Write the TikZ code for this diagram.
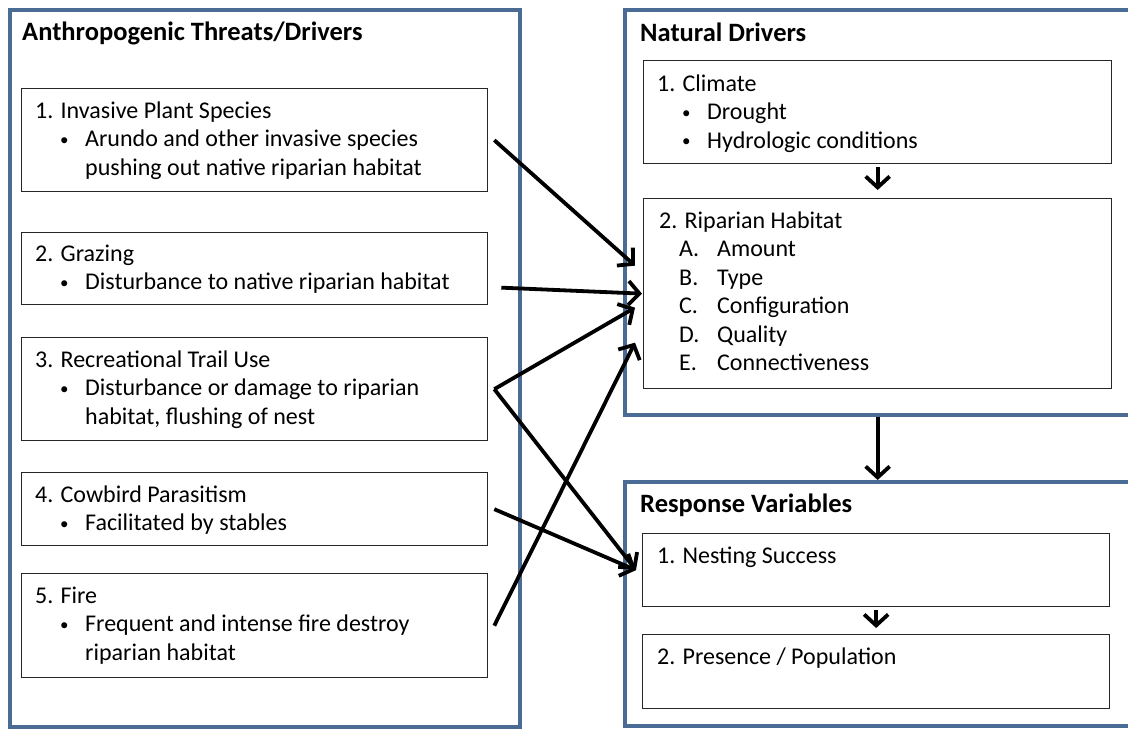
\documentclass[tikz,border=0pt]{standalone}
\usepackage{fontspec}
\setmainfont{Carlito}
\usetikzlibrary{arrows.meta, positioning, calc}

\definecolor{frameblue}{RGB}{74,108,148}
\newcommand{\bul}{\hspace*{25pt}\makebox[25pt][l]{\raisebox{1.5pt}{\fontsize{17}{17}\selectfont\textbullet}}}
\newcommand{\cnt}{\hspace*{50pt}}
\newcommand{\lst}[1]{\hspace*{20pt}\makebox[38pt][l]{#1}}
\newcommand{\fst}{\rule{0pt}{19pt}}

\begin{document}
\begin{tikzpicture}[x=1pt, y=-1pt,
	every node/.style={font=\fontsize{24}{28.5}\selectfont},
	group/.style={draw=frameblue, line width=3.5pt, anchor=north west, inner sep=0pt},
	item/.style={draw=black!85, line width=1.3pt, fill=white, anchor=north west, inner sep=0pt},
	txt/.style={anchor=north west, inner sep=0pt, align=left},
	head/.style={anchor=west, inner sep=0pt, font=\fontsize{26.5}{30}\selectfont\bfseries},
	link/.style={line width=3.8pt, -{Straight Barb[length=11pt, width=24pt]}}]
		\useasboundingbox (0,0) rectangle (1128,729);
		% outer frames
		\node[group, minimum width=510pt, minimum height=717pt] (anthro) at (8,8) {};
		\node[group, minimum width=520pt, minimum height=405pt] (natural) at (623,8) {};
		\node[group, minimum width=520pt, minimum height=244pt] (response) at (623,480) {};
		\node[head] (anthrohead) at (22,33) {Anthropogenic Threats/Drivers};
		\node[head] (naturalhead) at (640,32) {Natural Drivers};
		\node[head] (responsehead) at (640,505) {Response Variables};
		% threats
		\node[item, minimum width=466pt, minimum height=103pt] (invasive) at (21,88) {};
		\node[item, minimum width=466pt, minimum height=72pt] (grazing) at (21,232) {};
		\node[item, minimum width=466pt, minimum height=103pt] (trail) at (21,337) {};
		\node[item, minimum width=466pt, minimum height=73pt] (cowbird) at (21,472) {};
		\node[item, minimum width=466pt, minimum height=104pt] (fire) at (21,573) {};
		\node[txt] (invasivetxt) at ($(invasive.north west)+(14,11)$) {\fst 1. Invasive Plant Species\\ \bul Arundo and other invasive species\\ \cnt pushing out native riparian habitat};
		\node[txt] (grazingtxt) at ($(grazing.north west)+(14,10)$) {\fst 2. Grazing\\ \bul Disturbance to native riparian habitat};
		\node[txt] (trailtxt) at ($(trail.north west)+(14,11)$) {\fst 3. Recreational Trail Use\\ \bul Disturbance or damage to riparian\\ \cnt habitat, flushing of nest};
		\node[txt] (cowbirdtxt) at ($(cowbird.north west)+(14,11)$) {\fst 4. Cowbird Parasitism\\ \bul Facilitated by stables};
		\node[txt] (firetxt) at ($(fire.north west)+(14,11)$) {\fst 5. Fire\\ \bul Frequent and intense fire destroy\\ \cnt riparian habitat};
		% natural drivers
		\node[item, minimum width=468pt, minimum height=103pt] (climate) at (643,60) {};
		\node[item, minimum width=468pt, minimum height=190pt] (riparian) at (643,198) {};
		\node[txt] (climatetxt) at ($(climate.north west)+(14,12)$) {\fst 1. Climate\\ \bul Drought\\ \bul Hydrologic conditions};
		\node[txt] (ripariantxt) at ($(riparian.north west)+(16,11)$) {\fst 2. Riparian Habitat\\ \lst{A.}Amount\\ \lst{B.}Type\\ \lst{C.}Configuration\\ \lst{D.}Quality\\ \lst{E.}Connectiveness};
		% responses
		\node[item, minimum width=467pt, minimum height=73pt] (nesting) at (642,533) {};
		\node[item, minimum width=467pt, minimum height=74pt] (presence) at (642,634) {};
		\node[txt] (nestingtxt) at ($(nesting.north west)+(15,11)$) {\fst 1. Nesting Success};
		\node[txt] (presencetxt) at ($(presence.north west)+(15,11)$) {\fst 2. Presence / Population};
		% links
		\draw[link] ([yshift=-3pt]climate.south) -- ([yshift=8pt]riparian.north);
		\draw[link] (natural.south -| climate.south) -- (response.north -| climate.south);
		\draw[link] ([yshift=-3pt]nesting.south) -- ([yshift=6pt]presence.north);
		\draw[link] ([xshift=6pt]invasive.east) -- ([xshift=-8pt,yshift=28pt]riparian.west);
		\draw[link] ([xshift=13pt,yshift=-19pt]grazing.east) -- ([xshift=-1pt]riparian.west);
		\draw[link] ([xshift=6pt]trail.east) -- ([xshift=-8pt,yshift=-14pt]riparian.west);
		\draw[link] ([xshift=6pt]trail.east) -- ([xshift=-6pt]nesting.west);
		\draw[link] ([xshift=6pt]cowbird.east) -- ([xshift=-6pt]nesting.west);
		\draw[link] ([xshift=6pt]fire.east) -- ([xshift=-8pt,yshift=-49pt]riparian.west);
	\end{tikzpicture}
\end{document}
